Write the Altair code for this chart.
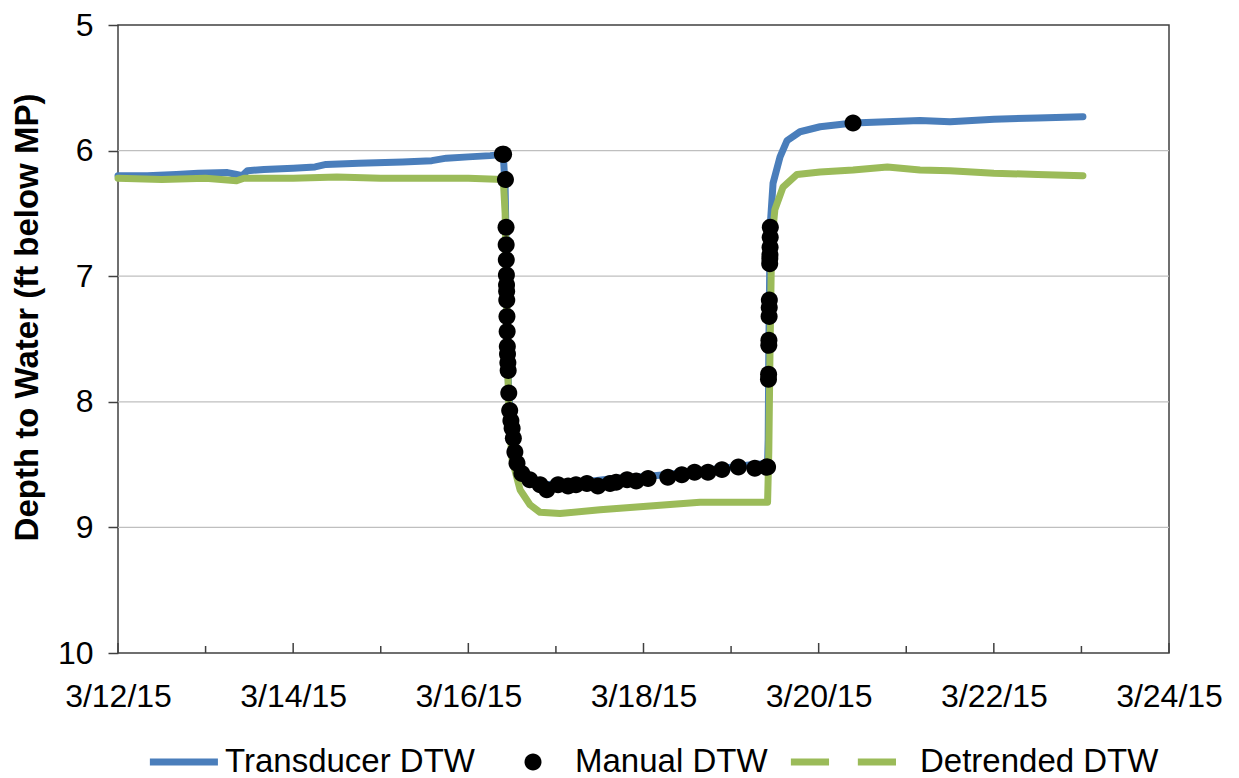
import altair as alt
import pandas as pd

# ---------------- data ----------------
trans_time = [
    "2015-03-12 00:00", "2015-03-12 08:00", "2015-03-12 16:00", "2015-03-12 22:00",
    "2015-03-13 06:00", "2015-03-13 08:30", "2015-03-13 10:00", "2015-03-13 11:30",
    "2015-03-13 16:00", "2015-03-14 00:00", "2015-03-14 06:00", "2015-03-14 09:00",
    "2015-03-14 18:00", "2015-03-15 06:00", "2015-03-15 14:00", "2015-03-15 18:00",
    "2015-03-16 00:00", "2015-03-16 06:00", "2015-03-16 09:35",
    "2015-03-16 10:05", "2015-03-16 10:20", "2015-03-16 10:30", "2015-03-16 10:40",
    "2015-03-16 10:55", "2015-03-16 11:10", "2015-03-16 11:40", "2015-03-16 12:10",
    "2015-03-16 12:45", "2015-03-16 13:20", "2015-03-16 14:40", "2015-03-16 16:50",
    "2015-03-16 19:40", "2015-03-16 21:30", "2015-03-17 04:00", "2015-03-17 10:00",
    "2015-03-17 16:00", "2015-03-17 22:00", "2015-03-18 06:00", "2015-03-18 12:00",
    "2015-03-18 18:00", "2015-03-19 00:00", "2015-03-19 06:00", "2015-03-19 10:00",
    "2015-03-19 10:10", "2015-03-19 10:20", "2015-03-19 10:35", "2015-03-19 10:50",
    "2015-03-19 11:30", "2015-03-19 13:25", "2015-03-19 15:20", "2015-03-19 18:53",
    "2015-03-20 00:23", "2015-03-20 09:25", "2015-03-21 03:46", "2015-03-21 12:00",
    "2015-03-21 18:00", "2015-03-22 00:00", "2015-03-22 12:00", "2015-03-23 00:25",
]
trans_dtw = [
    6.20, 6.20, 6.19, 6.18,
    6.175, 6.19, 6.20, 6.16,
    6.15, 6.14, 6.13, 6.11,
    6.10, 6.09, 6.08, 6.06,
    6.05, 6.04, 6.03,
    6.30, 6.70, 7.15, 7.55,
    7.80, 7.98, 8.12, 8.25,
    8.38, 8.47, 8.55, 8.60,
    8.64, 8.66, 8.64, 8.63,
    8.61, 8.60, 8.58, 8.56,
    8.54, 8.52, 8.50, 8.49,
    8.30, 7.60, 6.95, 6.55,
    6.26, 6.05, 5.92, 5.85,
    5.81, 5.78, 5.76, 5.77,
    5.76, 5.75, 5.74, 5.73,
]

det_time = [
    "2015-03-12 00:00", "2015-03-12 12:00", "2015-03-13 00:00", "2015-03-13 08:30",
    "2015-03-13 10:30", "2015-03-14 00:00", "2015-03-14 12:00", "2015-03-15 00:00",
    "2015-03-15 12:00", "2015-03-16 00:00", "2015-03-16 09:35",
    "2015-03-16 10:05", "2015-03-16 10:25", "2015-03-16 10:45", "2015-03-16 11:10",
    "2015-03-16 12:00", "2015-03-16 14:10", "2015-03-16 16:54", "2015-03-16 19:39",
    "2015-03-17 01:07", "2015-03-17 12:05", "2015-03-18 01:47", "2015-03-18 15:29",
    "2015-03-19 10:00", "2015-03-19 10:20", "2015-03-19 10:40", "2015-03-19 11:00",
    "2015-03-19 11:30", "2015-03-19 12:00", "2015-03-19 14:14", "2015-03-19 18:04",
    "2015-03-20 00:23", "2015-03-20 09:25", "2015-03-20 18:50", "2015-03-21 03:46",
    "2015-03-21 12:00", "2015-03-22 00:00", "2015-03-22 12:00", "2015-03-23 00:25",
]
det_dtw = [
    6.22, 6.23, 6.22, 6.24,
    6.22, 6.22, 6.21, 6.22,
    6.22, 6.22, 6.23,
    6.50, 7.00, 7.70, 8.10,
    8.46, 8.70, 8.82, 8.88,
    8.89, 8.86, 8.83, 8.80,
    8.80, 8.40, 7.60, 6.95,
    6.62, 6.47, 6.29, 6.19,
    6.17, 6.155, 6.13, 6.155,
    6.16, 6.18, 6.19, 6.20,
]

man_time = [
    "2015-03-16 09:20", "2015-03-16 09:40", "2015-03-16 10:10", "2015-03-16 10:20",
    "2015-03-16 10:22", "2015-03-16 10:24", "2015-03-16 10:26", "2015-03-16 10:28",
    "2015-03-16 10:30", "2015-03-16 10:32", "2015-03-16 10:35", "2015-03-16 10:38",
    "2015-03-16 10:41", "2015-03-16 10:44", "2015-03-16 10:50", "2015-03-16 10:55",
    "2015-03-16 11:05", "2015-03-16 11:20", "2015-03-16 11:40", "2015-03-16 12:00",
    "2015-03-16 12:20", "2015-03-16 12:45", "2015-03-16 13:20", "2015-03-16 14:40",
    "2015-03-16 16:50", "2015-03-16 19:40", "2015-03-16 21:30", "2015-03-17 00:35",
    "2015-03-17 03:20", "2015-03-17 05:30", "2015-03-17 08:30", "2015-03-17 11:30",
    "2015-03-17 14:50", "2015-03-17 16:30", "2015-03-17 19:30", "2015-03-17 22:00",
    "2015-03-18 01:15", "2015-03-18 06:40", "2015-03-18 10:30", "2015-03-18 14:00",
    "2015-03-18 17:40", "2015-03-18 21:30", "2015-03-19 02:00", "2015-03-19 06:30",
    "2015-03-19 09:40", "2015-03-19 10:00", "2015-03-19 10:15", "2015-03-19 10:17",
    "2015-03-19 10:20", "2015-03-19 10:22", "2015-03-19 10:25", "2015-03-19 10:27",
    "2015-03-19 10:29", "2015-03-19 10:35", "2015-03-19 10:37", "2015-03-19 10:39",
    "2015-03-19 10:41", "2015-03-19 10:43", "2015-03-19 10:45", "2015-03-20 09:25",
]
man_dtw = [
    6.03, 6.03, 6.23, 6.61,
    6.75, 6.87, 6.99, 7.07,
    7.12, 7.19, 7.32, 7.44,
    7.56, 7.62, 7.69, 7.75,
    7.93, 8.07, 8.15, 8.21,
    8.29, 8.40, 8.49, 8.57,
    8.62, 8.66, 8.70, 8.66,
    8.67, 8.66, 8.65, 8.67,
    8.65, 8.64, 8.62, 8.63,
    8.61, 8.60, 8.58, 8.56,
    8.56, 8.54, 8.52, 8.53,
    8.52, 8.52, 7.82, 7.78,
    7.55, 7.51, 7.32, 7.25,
    7.19, 6.90, 6.86, 6.83,
    6.77, 6.69, 6.61, 5.78,
]

series_names = ["Transducer DTW", "Manual DTW", "Detrended DTW"]
series_colors = ["#4A7EBB", "#000000", "#9BBB59"]
y_ticks = [5, 6, 7, 8, 9, 10]
grid_values = [6, 7, 8, 9]
major_days = ["2015-03-12 00:00", "2015-03-14 00:00", "2015-03-16 00:00", "2015-03-18 00:00",
              "2015-03-20 00:00", "2015-03-22 00:00", "2015-03-24 00:00"]
minor_days = ["2015-03-13 00:00", "2015-03-15 00:00", "2015-03-17 00:00", "2015-03-19 00:00",
              "2015-03-21 00:00", "2015-03-23 00:00"]

# legend symbols (unit coordinates, -1..1 box)
legend_shapes = [
    "M-0.92,-0.1H0.97V0.1H-0.92Z",
    "M-0.236,0A0.236,0.236,0,1,0,0.236,0A0.236,0.236,0,1,0,-0.236,0Z",
    "M-2.42,-0.1H-1.36V0.1H-2.42Z M-0.56,-0.1H0.5V0.1H-0.56Z",
]

W, H = 1051, 628
FONT = "Liberation Sans"
FRAME = "#404040"

trans_df = pd.DataFrame({"time": trans_time, "dtw": trans_dtw})
det_df = pd.DataFrame({"time": det_time, "dtw": det_dtw})
man_df = pd.DataFrame({"time": man_time, "dtw": man_dtw, "series": "Manual DTW"})
grid_df = pd.DataFrame({"g": grid_values})
major_df = pd.DataFrame({"t": major_days})
minor_df = pd.DataFrame({"t": minor_days})

x_scale = alt.Scale(domain=[alt.DateTime(year=2015, month=3, date=12),
                            alt.DateTime(year=2015, month=3, date=24)])
y_scale = alt.Scale(domain=[5, 10], reverse=True, nice=False, zero=False)

x_axis = alt.Axis(
    title=None,
    values=[alt.DateTime(year=2015, month=3, date=d) for d in [12, 14, 16, 18, 20, 22, 24]],
    format="%-m/%-d/%y", labelFontSize=32, labelFont=FONT, labelColor="#000000",
    ticks=False, tickSize=0, domain=False, grid=False, labelPadding=28,
    labelFlush=False, labelOverlap=False,
)
y_axis = alt.Axis(
    title="Depth to Water (ft below MP)", titleFontSize=33, titleFont=FONT,
    titleFontWeight="bold", titleColor="#000000", titleX=-81, titleY=292,
    titleAngle=-90, titleAlign="center", titleBaseline="alphabetic",
    values=y_ticks, format="d", labelFontSize=32, labelFont=FONT, labelColor="#000000",
    tickSize=10, tickColor=FRAME, tickWidth=1.5, labelPadding=15,
    domain=False, grid=False,
)

grid = alt.Chart(grid_df).mark_rule(color="#BFBFBF", strokeWidth=1.3).encode(
    y=alt.Y("g:Q", scale=y_scale, axis=y_axis),
    x=alt.value(0), x2=alt.value(W),
)

blue = alt.Chart(trans_df).mark_line(
    color="#4A7EBB", strokeWidth=7, strokeJoin="round", strokeCap="round"
).encode(
    x=alt.X("time:T", scale=x_scale, axis=x_axis),
    y=alt.Y("dtw:Q", scale=y_scale),
)

green = alt.Chart(det_df).mark_line(
    color="#9BBB59", strokeWidth=7, strokeJoin="round", strokeCap="round"
).encode(
    x=alt.X("time:T"),
    y=alt.Y("dtw:Q"),
)

legend = alt.Legend(
    title=None, orient="none", legendX=29, legendY=701, direction="horizontal",
    labelFontSize=33, labelFont=FONT, labelColor="#000000", labelLimit=600,
    symbolSize=5184, symbolStrokeWidth=0, symbolOpacity=1, columnPadding=22,
    labelOffset=6, padding=0,
)

dots = alt.Chart(man_df).mark_point(filled=True, opacity=1, size=5184, strokeWidth=0).encode(
    x=alt.X("time:T"),
    y=alt.Y("dtw:Q"),
    color=alt.Color("series:N", scale=alt.Scale(domain=series_names, range=series_colors),
                    legend=legend),
    shape=alt.Shape("series:N", scale=alt.Scale(domain=series_names, range=legend_shapes),
                    legend=legend),
)

major = alt.Chart(major_df).mark_rule(color=FRAME, strokeWidth=1.5).encode(
    x=alt.X("t:T"), y=alt.value(H), y2=alt.value(H - 10),
)
minor = alt.Chart(minor_df).mark_rule(color=FRAME, strokeWidth=1.5).encode(
    x=alt.X("t:T"), y=alt.value(H), y2=alt.value(H - 7),
)

chart = alt.layer(grid, blue, green, dots, major, minor).properties(
    width=W, height=H,
    autosize=alt.AutoSizeParams(type="none"),
    padding={"left": 110, "top": 17, "right": 60, "bottom": 125},
).configure(font=FONT).configure_view(stroke=FRAME, strokeWidth=1.5)

chart.save("out.html", embed_options={"renderer": "svg", "actions": False})
